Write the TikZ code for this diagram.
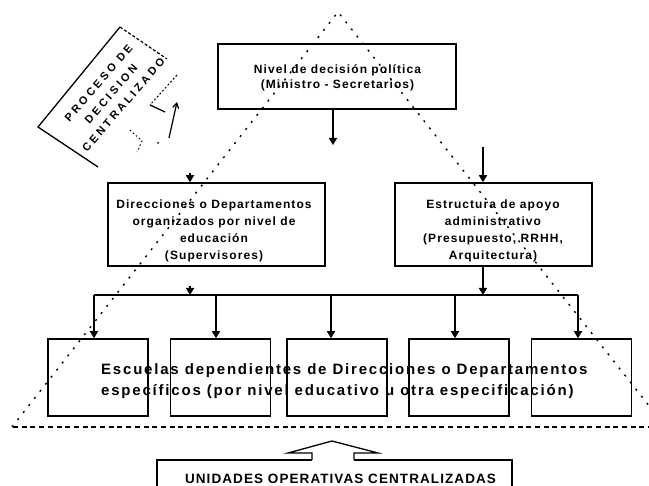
\documentclass[tikz,border=0pt]{standalone}
\usepackage{fontspec}
\setmainfont{Liberation Sans}
\usetikzlibrary{arrows.meta}
\begin{document}
\begin{tikzpicture}[x=1pt,y=-1pt,
  box/.style={draw,line width=1.5pt,inner sep=0pt},
  txt/.style={align=center,inner sep=0pt,font=\fontsize{12}{17}\selectfont\bfseries\addfontfeature{LetterSpace=9}},
  arr/.style={line width=1.5pt,-{Triangle[width=8pt,length=7pt]}},
  link/.style={line width=1.5pt},
  tri/.style={line width=1.4pt,dash pattern=on 2pt off 7pt},
  base/.style={line width=1.2pt,dash pattern=on 5pt off 3.7pt},
]
\clip (0,0) rectangle (649,486);
\fill[white] (0,0) rectangle (649,486);

% dotted triangle and dashed base line
\draw[tri] (12,427) -- (338,12) -- (665,426);
\draw[base] (13,427) -- (649,427);

% top box
\node[box,minimum width=238pt,minimum height=65pt] (top) at (337,76.5) {};
\node[txt,font=\fontsize{12}{15}\selectfont\bfseries\addfontfeature{LetterSpace=9}] (toptxt) at (337.5,77.5) {Nivel de decisión política\\(Ministro - Secretarios)};

% second level boxes
\node[box,minimum width=217pt,minimum height=83pt] (dir) at (216.5,224.5) {};
\node[txt] (dirtxt) at (214,230.5) {Direcciones o Departamentos\\organizados por nivel de\\educación\\(Supervisores)};
\node[box,minimum width=197pt,minimum height=83pt] (est) at (493.5,224.5) {};
\node[txt] (esttxt) at (493,230.5) {Estructura de apoyo\\administrativo\\(Presupuesto, RRHH,\\Arquitectura)};

% school boxes
\foreach \n/\cx in {b1/98,b2/220.5,b3/337,b4/459,b5/581.5}
  \node[box,minimum width=100pt,minimum height=77pt] (\n) at (\cx,377.5) {};
\node[inner sep=0pt,anchor=west,align=left,font=\fontsize{15}{21}\selectfont\bfseries\addfontfeature{LetterSpace=12}] (esc) at (101,381.5) {Escuelas dependientes de Direcciones o Departamentos\\específicos (por nivel educativo u otra especificación)};

% connectors
\coordinate (topout) at (333,145);
\coordinate (estin) at (483,147);
\coordinate (dirin) at (190,173);
\coordinate (dirout) at (190,286);
\coordinate (busL) at (94,295);
\coordinate (busR) at (578,295);
\draw[arr] (top.south -| topout) -- (topout);
\draw[arr] (estin) -- (estin |- est.north);
\draw[arr] (dirin) -- (dirin |- dir.north);
\draw[arr] (dirout) -- (dirout |- busL);
\draw[arr] (est.south -| estin) -- (estin |- busL);
\draw[link] (busL) -- (busR);
\draw[arr] (busL) -- (busL |- b1.north);
\draw[arr] ([xshift=-4.5pt]b2.north |- busL) -- ([xshift=-4.5pt]b2.north);
\draw[arr] ([xshift=-6pt]b3.north |- busL) -- ([xshift=-6pt]b3.north);
\draw[arr] ([xshift=-4pt]b4.north |- busL) -- ([xshift=-4pt]b4.north);
\draw[arr] (busR) -- (busR |- b5.north);

% bottom unit with hollow arrow
\node[inner sep=0pt,font=\fontsize{13.5}{16}\selectfont\bfseries\addfontfeature{LetterSpace=8}] (uni) at (340.5,479) {UNIDADES OPERATIVAS CENTRALIZADAS};
\draw[line width=1.5pt] (354,460) -- (512,460) -- (512,496) -- (157,496) -- (157,460) -- (312,460);
\draw[line width=1.3pt,line join=miter] (312,460) -- (312,453) -- (288,453) -- (332,441) -- (378,453) -- (354,453) -- (354,460);

% rotated label "proceso de decision centralizado"
\draw[line width=1.3pt] (98,167) -- (38,127) -- (120,27);
\draw[line width=1.2pt,dash pattern=on 3pt off 2pt] (120,27) -- (167,59);
\node[rotate=49,inner sep=0pt,align=center,font=\fontsize{11}{16.5}\selectfont\bfseries\addfontfeature{LetterSpace=27}] (proc) at (111,94) {PROCESO DE\\DECISION\\CENTRALIZADO};
\draw[line width=1pt,dash pattern=on 2pt off 2pt] (177,75) -- (150,105);
\draw[line width=1.3pt] (150,105) -- (165,112);
\draw[line width=1.2pt,-{Straight Barb[length=5pt,width=6pt]}] (169,138) -- (177,102);
\draw[line width=1pt,dash pattern=on 1.5pt off 2.5pt] (130,130) -- (142,141) -- (137,152);
\fill (158,143) circle (1pt);
\end{tikzpicture}
\end{document}
